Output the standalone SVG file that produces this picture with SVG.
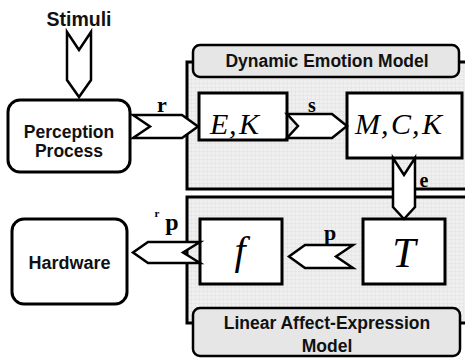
<svg xmlns="http://www.w3.org/2000/svg" width="465" height="358" viewBox="0 0 465 358">
<defs>
<pattern id="grid" width="4" height="4" patternUnits="userSpaceOnUse">
<rect width="4" height="4" fill="#efefef"/>
<path d="M4 0V4M0 4H4" stroke="#d9d9d9" stroke-width="0.6" fill="none"/>
</pattern>
<style>
.panel{fill:url(#grid);stroke:#000;stroke-width:3}
.tab{fill:#e6e6e6;stroke:#000;stroke-width:2.5}
.rbox{fill:#fff;stroke:#000;stroke-width:3}
.box{fill:#fff;stroke:#000;stroke-width:3}
.arr{fill:#fff;stroke:#000;stroke-width:2.5;stroke-linejoin:miter}
.lab{font-family:"Liberation Sans",Arial,sans-serif;font-weight:bold;fill:#111;text-anchor:middle}
.math{font-family:"Liberation Serif","Times New Roman",serif;font-style:italic;fill:#000}
.vec{font-family:"Liberation Serif","Times New Roman",serif;font-weight:bold;fill:#000;text-anchor:middle}
</style>
</defs>
<rect width="465" height="358" fill="#fff"/>

<g id="upper-panel">
<rect class="panel" x="187" y="62" width="290" height="127"/>
<rect class="tab" x="193" y="45" width="266" height="32" rx="7"/>
<text class="lab" x="327" y="67" font-size="17.5">Dynamic Emotion Model</text>
</g>

<g id="lower-panel">
<rect class="panel" x="187" y="197" width="290" height="126"/>
<rect class="tab" x="193" y="308" width="267" height="48" rx="7"/>
<text class="lab" x="327" y="329" font-size="17.5">Linear Affect-Expression</text>
<text class="lab" x="327" y="352" font-size="17.5">Model</text>
</g>

<g id="stimuli">
<text class="lab" x="79" y="26" font-size="19.5">Stimuli</text>
</g>

<g id="perception">
<rect class="rbox" x="8" y="100" width="122" height="72" rx="12"/>
<text class="lab" x="69" y="138" font-size="17.5">Perception</text>
<text class="lab" x="69" y="157" font-size="17.5">Process</text>
</g>

<g id="hardware">
<rect class="rbox" x="12" y="219" width="115" height="85" rx="12"/>
<text class="lab" x="69.5" y="269" font-size="18">Hardware</text>
</g>

<g id="EK">
<rect class="box" x="199" y="93" width="88" height="47"/>
<text class="math" y="134" font-size="30"><tspan x="210">E</tspan><tspan x="229">,</tspan><tspan x="239">K</tspan></text>
</g>

<g id="MCK">
<rect class="box" x="347" y="93" width="115" height="65"/>
<text class="math" y="134" font-size="30"><tspan x="355">M</tspan><tspan x="381">,</tspan><tspan x="391">C</tspan><tspan x="412">,</tspan><tspan x="422">K</tspan></text>
</g>

<g id="f">
<rect class="box" x="200" y="219" width="82" height="65"/>
<text class="math" x="240" y="264" font-size="40" text-anchor="middle">f</text>
</g>

<g id="T">
<rect class="box" x="363" y="219" width="82" height="65"/>
<text class="math" x="404" y="267" font-size="42" text-anchor="middle">T</text>
</g>

<g id="connectors">
<polygon class="arr" points="67,32 79,50 91,32 91,80 79,97 67,80"/>
<polygon class="arr" points="133,115 182,115 198,126.5 182,138 133,138 150,126.5"/>
<polygon class="arr" points="287,114 332,114 347,126 332,138 287,138 298,126"/>
<polygon class="arr" points="393,158 404,175 415,158 415,207 404,219 393,207"/>
<polygon class="arr" points="353,245 305,245 289,256.5 305,268 353,268 336,256.5"/>
<polygon class="arr" points="200,242 148,242 133,252.5 148,263 200,263 183,252.5"/>
<text class="vec" x="162" y="112" font-size="22">r</text>
<text class="vec" x="312" y="112" font-size="20">s</text>
<text class="vec" x="424" y="187" font-size="20">e</text>
<text class="vec" x="330" y="240" font-size="22">p</text>
<text class="vec" x="157" y="217" font-size="11">r</text>
<text class="vec" x="172" y="230" font-size="24">p</text>
</g>
</svg>
